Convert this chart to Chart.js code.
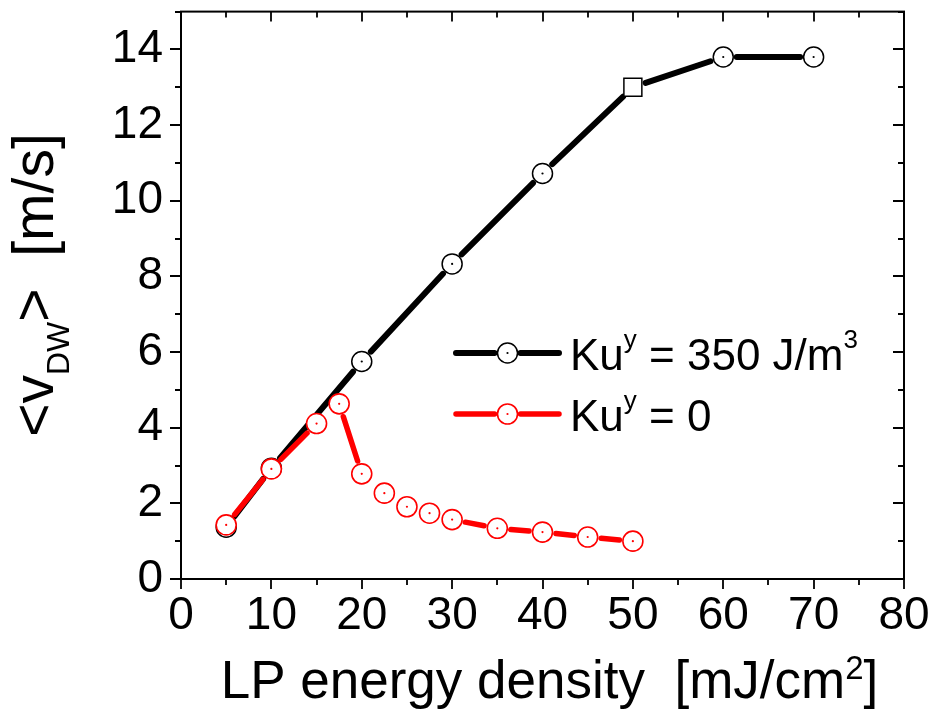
<!DOCTYPE html>
<html>
<head>
<meta charset="utf-8">
<script src="https://cdn.jsdelivr.net/npm/chart.js@4.4.0/dist/chart.umd.min.js"></script>
<style>
  html, body { margin: 0; padding: 0; background: #fff; }
  #wrap { width: 933px; height: 713px; }
</style>
</head>
<body>
<div id="wrap"><canvas id="vdwChart"></canvas></div>
<script>
const FONT = "'Liberation Sans', Arial, Helvetica, sans-serif";

// Ku^y = 350 J/m^3
const energyKu350 = [5, 10, 20, 30, 40, 50, 60, 70];
const vdwKu350 = [1.37, 2.93, 5.75, 8.33, 10.72, 13.0, 13.8, 13.8];

// Ku^y = 0
const energyKu0 = [5, 10, 15, 17.5, 20, 22.5, 25, 27.5, 30, 35, 40, 45, 50];
const vdwKu0 = [1.43, 2.91, 4.11, 4.63, 2.78, 2.27, 1.91, 1.74, 1.57, 1.34, 1.24, 1.11, 1.0];

const xTickValues = [0, 10, 20, 30, 40, 50, 60, 70, 80];
const yTickValues = [0, 2, 4, 6, 8, 10, 12, 14];

const seriesLabels = ['Ku^{y} = 350 J/m^{3}', 'Ku^{y} = 0'];
const xTitle = 'LP energy density  [mJ/cm^{2}]';
const yTitle = '<v_{DW}>  [m/s]';

function toPoints(xs, ys) {
  return xs.map((x, i) => ({ x: x, y: ys[i] }));
}

// splits "a^{b}c_{d}" into plain / superscript / subscript runs
function parseRich(str) {
  const parts = [];
  const re = /([\^_])\{([^}]*)\}/g;
  let last = 0, m;
  while ((m = re.exec(str))) {
    if (m.index > last) parts.push({ t: str.slice(last, m.index), mode: 0 });
    parts.push({ t: m[2], mode: m[1] === '^' ? 1 : -1 });
    last = re.lastIndex;
  }
  if (last < str.length) parts.push({ t: str.slice(last), mode: 0 });
  return parts;
}

function drawRich(ctx, str, x, y, o) {
  const parts = parseRich(str);
  const fontFor = p => (p.mode ? o.small : o.size) + 'px ' + FONT;
  let total = 0;
  parts.forEach(p => {
    ctx.font = fontFor(p);
    p.w = ctx.measureText(p.t).width;
    total += p.w;
  });
  let cx = o.align === 'center' ? x - total / 2 : x;
  ctx.textAlign = 'left';
  ctx.textBaseline = 'alphabetic';
  ctx.fillStyle = '#000';
  parts.forEach(p => {
    ctx.font = fontFor(p);
    const dy = p.mode === 1 ? -o.up : (p.mode === -1 ? o.down : 0);
    ctx.fillText(p.t, cx, y + dy);
    cx += p.w;
  });
}

// connecting lines with a gap around each marker
const gapLines = {
  id: 'gapLines',
  beforeDatasetDraw(chart, args) {
    const ds = chart.data.datasets[args.index];
    const pts = args.meta.data;
    const ctx = chart.ctx;
    const gap = 13.5;
    ctx.save();
    ctx.strokeStyle = ds.borderColor;
    ctx.lineWidth = ds.lineWidthGap;
    ctx.lineCap = 'round';
    for (let i = 0; i < pts.length - 1; i++) {
      const a = pts[i], b = pts[i + 1];
      const dx = b.x - a.x, dy = b.y - a.y;
      const len = Math.hypot(dx, dy);
      if (len - 2 * gap < 6) continue;
      const ux = dx / len, uy = dy / len;
      ctx.beginPath();
      ctx.moveTo(a.x + ux * gap, a.y + uy * gap);
      ctx.lineTo(b.x - ux * gap, b.y - uy * gap);
      ctx.stroke();
    }
    ctx.restore();
  },
  afterDatasetDraw(chart, args) {
    const ds = chart.data.datasets[args.index];
    const ctx = chart.ctx;
    ctx.save();
    ctx.fillStyle = ds.borderColor;
    args.meta.data.forEach((p, i) => {
      const style = Array.isArray(ds.pointStyle) ? ds.pointStyle[i] : ds.pointStyle;
      if (style !== 'circle') return;
      ctx.beginPath();
      ctx.arc(p.x, p.y, 1.1, 0, Math.PI * 2);
      ctx.fill();
    });
    ctx.restore();
  }
};

// box frame, major/minor ticks, axis titles and legend
const decorations = {
  id: 'decorations',
  afterDraw(chart) {
    const ctx = chart.ctx;
    const area = chart.chartArea;
    const xs = chart.scales.x, ys = chart.scales.y;
    ctx.save();
    ctx.strokeStyle = '#000';
    ctx.lineWidth = 2;
    ctx.lineCap = 'butt';
    ctx.strokeRect(area.left, area.top, area.right - area.left, area.bottom - area.top);

    ctx.lineWidth = 1.8;
    ctx.beginPath();
    for (let v = xs.min; v <= xs.max; v += 5) {
      const px = Math.round(xs.getPixelForValue(v));
      const len = v % 10 === 0 ? 10 : 6;
      ctx.moveTo(px, area.bottom); ctx.lineTo(px, area.bottom + len);
      ctx.moveTo(px, area.top); ctx.lineTo(px, area.top + len);
    }
    for (let v = ys.min; v <= ys.max; v += 1) {
      const py = Math.round(ys.getPixelForValue(v));
      const len = v % 2 === 0 ? 11 : 6;
      ctx.moveTo(area.left, py); ctx.lineTo(area.left - len, py);
      ctx.moveTo(area.right, py); ctx.lineTo(area.right - len, py);
    }
    ctx.stroke();

    // axis titles
    drawRich(ctx, xTitle, (area.left + area.right) / 2 + 7, 698, { size: 53, small: 33, up: 19, down: 0, align: 'center' });
    ctx.save();
    ctx.translate(53, 285);
    ctx.rotate(-Math.PI / 2);
    drawRich(ctx, yTitle, 0, 0, { size: 57, small: 32, up: 0, down: 16, align: 'center' });
    ctx.restore();

    // legend
    chart.data.datasets.forEach((ds, i) => {
      const rowY = 353 + i * 61;
      const x0 = 456, x1 = 559, mx = 507.5;
      ctx.strokeStyle = ds.borderColor;
      ctx.lineWidth = ds.lineWidthGap;
      ctx.lineCap = 'round';
      ctx.beginPath();
      ctx.moveTo(x0, rowY); ctx.lineTo(mx - 13, rowY);
      ctx.moveTo(mx + 13, rowY); ctx.lineTo(x1, rowY);
      ctx.stroke();
      ctx.lineWidth = ds.pointBorderWidth;
      ctx.fillStyle = '#fff';
      ctx.beginPath();
      ctx.arc(mx, rowY, 10, 0, Math.PI * 2);
      ctx.fill();
      ctx.stroke();
      ctx.fillStyle = ds.borderColor;
      ctx.beginPath();
      ctx.arc(mx, rowY, 1.1, 0, Math.PI * 2);
      ctx.fill();
      drawRich(ctx, seriesLabels[i], 570, rowY + 17, { size: 44, small: 26, up: 22, down: 0, align: 'left' });
    });
    ctx.restore();
  }
};

function createVdwChart() {
  const ctx = document.getElementById('vdwChart');

  new Chart(ctx, {
    type: 'line',
    data: {
      datasets: [
        {
          label: seriesLabels[0],
          data: toPoints(energyKu350, vdwKu350),
          borderColor: '#000000',
          backgroundColor: '#ffffff',
          showLine: false,
          lineWidthGap: 6,
          pointStyle: ['circle', 'circle', 'circle', 'circle', 'circle', 'rect', 'circle', 'circle'],
          pointRadius: [10, 10, 10, 10, 10, 12.7, 10, 10],
          pointBackgroundColor: '#ffffff',
          pointBorderColor: '#000000',
          pointBorderWidth: 1.5,
          order: 2
        },
        {
          label: seriesLabels[1],
          data: toPoints(energyKu0, vdwKu0),
          borderColor: '#ff0000',
          backgroundColor: '#ffffff',
          showLine: false,
          lineWidthGap: 5.5,
          pointStyle: 'circle',
          pointRadius: 10,
          pointBackgroundColor: '#ffffff',
          pointBorderColor: '#ff0000',
          pointBorderWidth: 1.6,
          order: 1
        }
      ]
    },
    options: {
      responsive: true,
      maintainAspectRatio: false,
      animation: false,
      events: [],
      layout: {
        padding: { left: 0, top: 10, right: 29, bottom: 0 }
      },
      plugins: {
        legend: { display: false },
        tooltip: { enabled: false }
      },
      scales: {
        x: {
          type: 'linear',
          min: 0,
          max: 80,
          grid: { display: false, drawTicks: false },
          border: { display: false },
          afterBuildTicks: scale => {
            scale.ticks = xTickValues.map(v => ({ value: v }));
          },
          afterFit: scale => {
            scale.height = 134;
            scale.paddingLeft = 0;
            scale.paddingRight = 0;
          },
          ticks: {
            color: '#000',
            padding: 10,
            maxRotation: 0,
            font: { family: FONT, size: 46 }
          }
        },
        y: {
          type: 'linear',
          min: 0,
          max: 15,
          grid: { display: false, drawTicks: false },
          border: { display: false },
          afterBuildTicks: scale => {
            scale.ticks = yTickValues.map(v => ({ value: v }));
          },
          afterFit: scale => {
            scale.width = 181;
            scale.paddingTop = 0;
            scale.paddingBottom = 0;
          },
          ticks: {
            color: '#000',
            padding: 18,
            font: { family: FONT, size: 46 }
          }
        }
      }
    },
    plugins: [gapLines, decorations]
  });
}

document.addEventListener('DOMContentLoaded', createVdwChart);
</script>
</body>
</html>
